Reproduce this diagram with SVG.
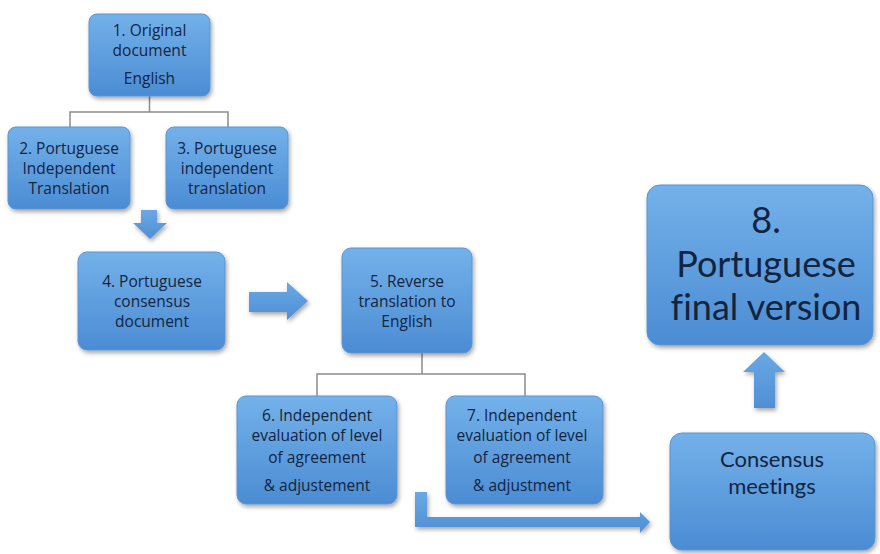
<svg xmlns="http://www.w3.org/2000/svg" width="880" height="554" viewBox="0 0 880 554">
  <defs>
    <linearGradient id="boxGrad" x1="0" y1="0" x2="0" y2="1">
      <stop offset="0" stop-color="#74b1ea"/>
      <stop offset="1" stop-color="#4b8cd3"/>
    </linearGradient>
    <linearGradient id="arrGrad" x1="0" y1="0" x2="0" y2="1">
      <stop offset="0" stop-color="#6aa8e4"/>
      <stop offset="1" stop-color="#4f8fd4"/>
    </linearGradient>
    <filter id="shadow" x="-10%" y="-10%" width="125%" height="130%">
      <feDropShadow dx="1.5" dy="2.5" stdDeviation="2" flood-color="#000" flood-opacity="0.35"/>
    </filter>
  </defs>
  <style>
    .box { fill: url(#boxGrad); stroke: #5a95d0; stroke-width: 1; filter: url(#shadow); }
    .t { font-family: "Open Sans", "Liberation Sans", sans-serif; fill: #13243f; text-anchor: middle; font-variant-ligatures: none; }
    .s { font-size: 15.5px; }
    .big { font-family: Lato, "Open Sans", sans-serif; font-size: 36px; }
    .c { font-family: Lato, "Open Sans", sans-serif; font-size: 22px; }
    .conn { fill: none; stroke: #8c8c8c; stroke-width: 1.5; }
    .arrow { fill: url(#arrGrad); filter: url(#shadow); }
  </style>
  <rect width="880" height="554" fill="#ffffff"/>

  <g id="connectors">
    <path class="conn" d="M149.5 96 V112 M70 127 V112 H228 V127"/>
    <path class="conn" d="M422 353 V374 M317 396 V374 H525 V396"/>
    <polygon class="arrow" points="141,210 157,210 157,223 167,223 150,239 133,223 141,223"/>
    <polygon class="arrow" points="249,292 287,292 287,282 308,301 287,320 287,312 249,312"/>
    <polygon class="arrow" points="764,352 785,372 775,372 775,408 754,408 754,372 743,372"/>
    <polygon class="arrow" points="415,492 427,492 427,517 640,517 640,512 650,522 640,533 640,527 415,527"/>
  </g>

  <g id="node1">
    <rect class="box" x="89" y="14" width="121" height="82" rx="8"/>
    <text class="t s" x="149.5" y="36">1. Original</text>
    <text class="t s" x="149.5" y="56">document</text>
    <text class="t s" x="149.5" y="84">English</text>
  </g>
  <g id="node2">
    <rect class="box" x="8" y="127" width="122" height="82" rx="8"/>
    <text class="t s" x="69" y="154">2. Portuguese</text>
    <text class="t s" x="69" y="174">Independent</text>
    <text class="t s" x="69" y="194">Translation</text>
  </g>
  <g id="node3">
    <rect class="box" x="166" y="127" width="122" height="82" rx="8"/>
    <text class="t s" x="227" y="154">3. Portuguese</text>
    <text class="t s" x="227" y="174">independent</text>
    <text class="t s" x="227" y="194">translation</text>
  </g>
  <g id="node4">
    <rect class="box" x="78" y="252" width="147" height="98" rx="9"/>
    <text class="t s" x="152" y="287">4. Portuguese</text>
    <text class="t s" x="152" y="307">consensus</text>
    <text class="t s" x="152" y="327">document</text>
  </g>
  <g id="node5">
    <rect class="box" x="342" y="248" width="130" height="105" rx="9"/>
    <text class="t s" x="407" y="287">5. Reverse</text>
    <text class="t s" x="407" y="307">translation to</text>
    <text class="t s" x="407" y="327">English</text>
  </g>
  <g id="node6">
    <rect class="box" x="237" y="396" width="160" height="108" rx="9"/>
    <text class="t s" x="317" y="421">6. Independent</text>
    <text class="t s" x="317" y="441">evaluation of level</text>
    <text class="t s" x="317" y="463">of agreement</text>
    <text class="t s" x="317" y="491">&amp; adjustement</text>
  </g>
  <g id="node7">
    <rect class="box" x="446" y="396" width="157" height="108" rx="9"/>
    <text class="t s" x="522" y="421">7. Independent</text>
    <text class="t s" x="522" y="441">evaluation of level</text>
    <text class="t s" x="522" y="463">of agreement</text>
    <text class="t s" x="522" y="491">&amp; adjustment</text>
  </g>
  <g id="node8">
    <rect class="box" x="647" y="185" width="226" height="160" rx="13"/>
    <text class="t big" x="766" y="233">8.</text>
    <text class="t big" x="766" y="277">Portuguese</text>
    <text class="t big" x="766" y="320">final version</text>
  </g>
  <g id="nodeConsensus">
    <rect class="box" x="670" y="433" width="205" height="117" rx="12"/>
    <text class="t c" x="772" y="467">Consensus</text>
    <text class="t c" x="772" y="494">meetings</text>
  </g>
</svg>
